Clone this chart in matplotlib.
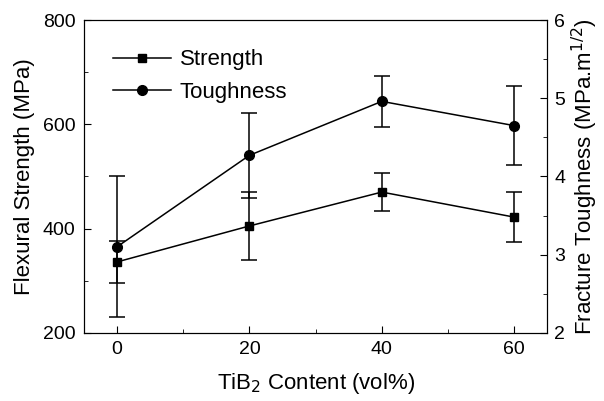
import matplotlib.pyplot as plt
from matplotlib.ticker import MultipleLocator
from matplotlib.lines import Line2D

plt.rcParams['font.family'] = ['Liberation Sans', 'DejaVu Sans']

# data
tib2 = [0, 20, 40, 60]
strength = [336, 405, 470, 422]
strength_err = [40, 65, 36, 48]
toughness = [3.10, 4.27, 4.96, 4.65]
toughness_err = [0.90, 0.54, 0.33, 0.51]

fig = plt.figure(figsize=(6.04, 4.01), dpi=100)
ax = fig.add_axes([0.139, 0.170, 0.767, 0.780])
ax2 = ax.twinx()

ax.errorbar(tib2, strength, yerr=strength_err, color='black', marker='s',
            markersize=6, linewidth=1.1, elinewidth=1.1, capsize=6, capthick=1.1)
ax2.errorbar(tib2, toughness, yerr=toughness_err, color='black', marker='o',
             markersize=7, linewidth=1.1, elinewidth=1.1, capsize=6, capthick=1.1)

ax.set_xlim(-5, 65)
ax.set_ylim(200, 800)
ax2.set_ylim(2, 6)
ax.set_xticks([0, 20, 40, 60])
ax.xaxis.set_minor_locator(MultipleLocator(10))
ax.yaxis.set_major_locator(MultipleLocator(200))
ax.yaxis.set_minor_locator(MultipleLocator(100))
ax2.yaxis.set_major_locator(MultipleLocator(1))
ax2.yaxis.set_minor_locator(MultipleLocator(0.5))

ax.tick_params(which='both', direction='in', top=False, labelsize=14)
ax.tick_params(which='major', length=5, pad=6)
ax.tick_params(which='minor', length=3)
ax2.tick_params(which='both', direction='in', labelsize=14)
ax2.tick_params(which='major', length=5, pad=5)
ax2.tick_params(which='minor', length=3)

ax.set_xlabel('TiB$_2$ Content (vol%)', fontsize=16, labelpad=9)
ax.set_ylabel('Flexural Strength (MPa)', fontsize=16, labelpad=6)
ax2.set_ylabel('Fracture Toughness (MPa.m$^{1/2}$)', fontsize=16, labelpad=3)

handles = [
    Line2D([], [], color='black', marker='s', markersize=6, linewidth=1.1),
    Line2D([], [], color='black', marker='o', markersize=7, linewidth=1.1),
]
ax.legend(handles, ['Strength', 'Toughness'], loc='upper left', frameon=False,
          fontsize=16, handlelength=2.6, handletextpad=0.4, labelspacing=0.5,
          bbox_to_anchor=(0.02, 0.97))

fig.savefig('out.png', dpi=100)
